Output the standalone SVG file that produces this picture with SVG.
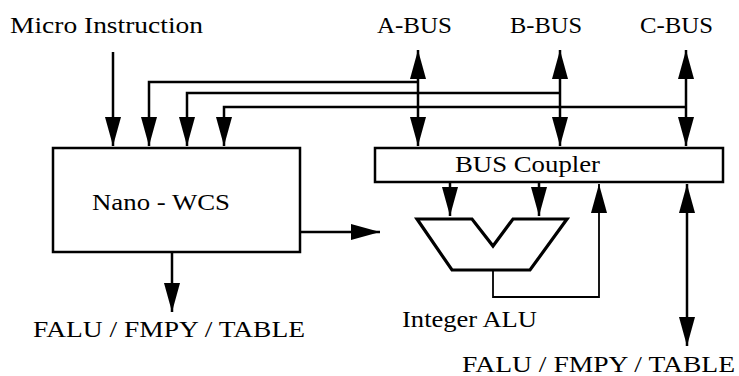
<svg xmlns="http://www.w3.org/2000/svg" width="739" height="376" viewBox="0 0 739 376">
<style>
text{font-family:"Liberation Serif","DejaVu Serif",serif;font-size:23px;fill:#000}
.box{fill:#fff;stroke:#000;stroke-width:2.5}
.ln{fill:none;stroke:#000;stroke-width:2.5}
.thin{fill:none;stroke:#000;stroke-width:1.8}
</style>
<defs>
<marker id="ah" markerUnits="userSpaceOnUse" markerWidth="30" markerHeight="18" refX="29" refY="8" orient="auto-start-reverse" viewBox="0 0 30 18">
<path d="M0,0 L29,8 L0,16 Z" fill="#000"/>
</marker>
</defs>
<rect width="739" height="376" fill="#fff"/>
<g id="labels">
<text x="10" y="33" textLength="193" lengthAdjust="spacingAndGlyphs">Micro Instruction</text>
<text x="377" y="33" textLength="75" lengthAdjust="spacingAndGlyphs">A-BUS</text>
<text x="510" y="33" textLength="72" lengthAdjust="spacingAndGlyphs">B-BUS</text>
<text x="640" y="33" textLength="73" lengthAdjust="spacingAndGlyphs">C-BUS</text>
<text x="33" y="337" textLength="272" lengthAdjust="spacingAndGlyphs">FALU / FMPY / TABLE</text>
<text x="462" y="372" textLength="273" lengthAdjust="spacingAndGlyphs">FALU / FMPY / TABLE</text>
</g>
<g id="nano-wcs">
<rect class="box" x="53" y="148" width="247" height="104"/>
<text x="92" y="210" textLength="138" lengthAdjust="spacingAndGlyphs">Nano - WCS</text>
</g>
<g id="bus-coupler">
<rect class="box" x="375" y="148" width="348" height="34"/>
<text x="455" y="172" textLength="145" lengthAdjust="spacingAndGlyphs">BUS Coupler</text>
</g>
<g id="integer-alu">
<polygon points="417,219 472,219 493,246 513,219 567,219 530,270 452,270" fill="#fff" stroke="#000" stroke-width="3.2" stroke-linejoin="miter"/>
<text x="402" y="327" textLength="135" lengthAdjust="spacingAndGlyphs">Integer ALU</text>
</g>
<g id="connectors">
<path class="ln" d="M113,52 V146" marker-end="url(#ah)"/>
<path class="ln" d="M418,82 H149 V146" marker-end="url(#ah)"/>
<path class="ln" d="M560,93 H187 V146" marker-end="url(#ah)"/>
<path class="ln" d="M686,107 H224 V146" marker-end="url(#ah)"/>
<path class="ln" d="M418,50 V146" marker-start="url(#ah)" marker-end="url(#ah)"/>
<path class="ln" d="M560,50 V146" marker-start="url(#ah)" marker-end="url(#ah)"/>
<path class="ln" d="M686,50 V146" marker-start="url(#ah)" marker-end="url(#ah)"/>
<path class="ln" d="M450,183 V216" marker-end="url(#ah)"/>
<path class="ln" d="M539,183 V216" marker-end="url(#ah)"/>
<path class="thin" d="M493,270 V297 H599 V184" marker-end="url(#ah)"/>
<path class="ln" d="M300,232 H380" marker-end="url(#ah)"/>
<path class="ln" d="M172,252 V312" marker-end="url(#ah)"/>
<path class="ln" d="M687,184 V346" marker-start="url(#ah)" marker-end="url(#ah)"/>
</g>
</svg>
